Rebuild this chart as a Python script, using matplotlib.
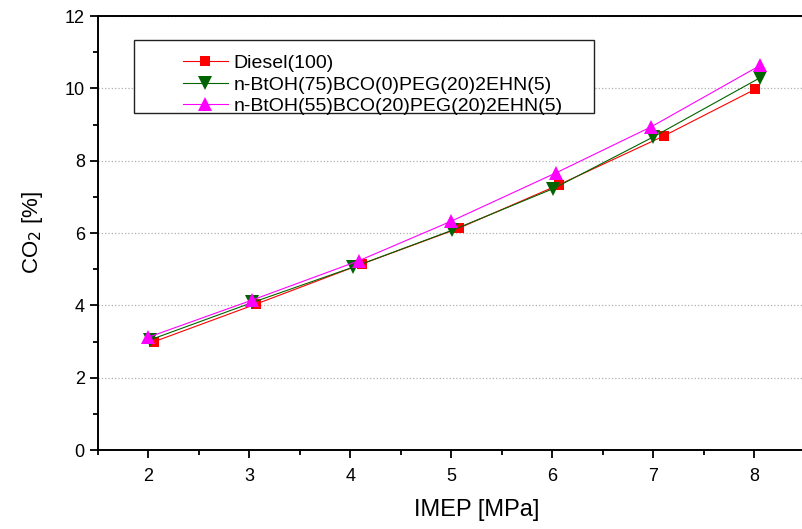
import matplotlib
matplotlib.use('Agg')
import matplotlib.pyplot as plt
from matplotlib.patches import Rectangle
from matplotlib.ticker import MultipleLocator

plt.rcParams['font.family'] = ['Liberation Sans', 'DejaVu Sans']

# Данные
x_diesel = [2.05, 3.06, 4.11, 5.07, 6.06, 7.10, 8.01]
y_diesel = [2.99, 4.03, 5.14, 6.13, 7.33, 8.68, 9.98]

x_b75 = [2.02, 3.03, 4.03, 5.01, 6.01, 7.00, 8.06]
y_b75 = [3.05, 4.08, 5.06, 6.08, 7.23, 8.66, 10.30]

x_b55 = [2.00, 3.03, 4.08, 5.00, 6.04, 6.98, 8.06]
y_b55 = [3.12, 4.15, 5.23, 6.33, 7.67, 8.94, 10.64]

labels = ['Diesel(100)',
          'n-BtOH(75)BCO(0)PEG(20)2EHN(5)',
          'n-BtOH(55)BCO(20)PEG(20)2EHN(5)']

fig = plt.figure(figsize=(8.03, 5.29), dpi=100)
ax = fig.add_axes([0.122, 0.1493, 0.9433, 0.8204])

ax.plot(x_diesel, y_diesel, color='#ff0000', lw=0.8, marker='s', ms=7.5,
        markeredgewidth=0, label=labels[0])
ax.plot(x_b75, y_b75, color='#006400', lw=0.8, marker='v', ms=10,
        markeredgewidth=0, label=labels[1])
ax.plot(x_b55, y_b55, color='#ff00ff', lw=0.8, marker='^', ms=10,
        markeredgewidth=0, label=labels[2])

ax.set_xlim(1.5, 9)
ax.set_ylim(0, 12)
ax.xaxis.set_major_locator(MultipleLocator(1))
ax.xaxis.set_minor_locator(MultipleLocator(0.5))
ax.yaxis.set_major_locator(MultipleLocator(2))
ax.yaxis.set_minor_locator(MultipleLocator(1))
ax.set_xticks([2, 3, 4, 5, 6, 7, 8])

ax.tick_params(which='major', direction='out', length=6, width=1.3, labelsize=13)
ax.tick_params(axis='x', which='major', pad=7)
ax.tick_params(which='minor', direction='out', length=3.5, width=1.3)
ax.tick_params(top=False, right=False, which='both')
for s in ['left', 'bottom', 'top']:
    ax.spines[s].set_linewidth(1.4)
ax.spines['right'].set_visible(False)

ax.grid(axis='y', which='major', linestyle=':', color='#b0b0b0', lw=0.9)

ax.set_xlabel('IMEP [MPa]', fontsize=17, labelpad=10)
ax.set_ylabel('CO$_2$ [%]', fontsize=16, labelpad=14)

# Рамка легенды отдельно, чтобы повторить отступы оригинала
ax.add_patch(Rectangle((0.0475, 0.7765), 0.607, 0.168, transform=ax.transAxes,
                       fill=True, facecolor='white', edgecolor='#222222', lw=1.0, zorder=4))
leg = ax.legend(loc='upper left', bbox_to_anchor=(0.112, 0.911), frameon=False,
                fontsize=14, borderpad=0, borderaxespad=0, handlelength=2.3,
                handletextpad=0.3, labelspacing=0.2)
leg.set_zorder(5)

fig.savefig('out.png', dpi=100)
